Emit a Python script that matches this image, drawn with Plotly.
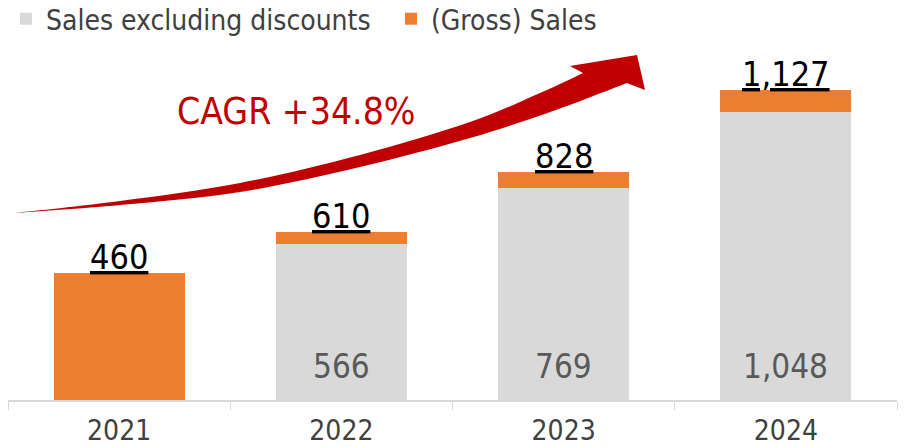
import plotly.graph_objects as go

years = ["2021", "2022", "2023", "2024"]
sales_excl = [0, 566, 769, 1048]
gross_total = [460, 610, 828, 1127]
gross_part = [t - s for t, s in zip(gross_total, sales_excl)]
inner_labels = ["", "566", "769", "1,048"]
total_labels = ["460", "610", "828", "1,127"]
cagr_text = "CAGR +34.8%"

FONT = "Liberation Sans Narrow, DejaVu Sans Condensed, Noto Sans, sans-serif"
W_FIG, H_FIG = 907, 447
ML, MR, MT, MB = 8, 10, 40, 47
PW = W_FIG - ML - MR
PH = H_FIG - MT - MB


def px(x, y):
    return (x - ML) / PW, (H_FIG - MB - y) / PH


def smooth(points):
    """Catmull-Rom through pixel points -> SVG cubic segments in paper units."""
    segs = []
    n = len(points)
    for i in range(n - 1):
        p0 = points[max(i - 1, 0)]
        p1 = points[i]
        p2 = points[i + 1]
        p3 = points[min(i + 2, n - 1)]
        c1 = (p1[0] + (p2[0] - p0[0]) / 6, p1[1] + (p2[1] - p0[1]) / 6)
        c2 = (p2[0] - (p3[0] - p1[0]) / 6, p2[1] - (p3[1] - p1[1]) / 6)
        a, b, c = px(*c1), px(*c2), px(*p2)
        segs.append(f"C {a[0]},{a[1]} {b[0]},{b[1]} {c[0]},{c[1]}")
    return " ".join(segs)


def pt(p):
    q = px(*p)
    return f"{q[0]},{q[1]}"


fig = go.Figure()
fig.add_trace(go.Bar(
    x=years, y=sales_excl, name="Sales excluding discounts",
    marker=dict(color="#D9D9D9", line=dict(width=0)),
    textposition="none",
))
fig.add_trace(go.Bar(
    x=years, y=gross_part, name="(Gross) Sales",
    marker=dict(color="#ED7D31", line=dict(width=0)),
    textposition="none",
))

for i, (tot, lab) in enumerate(zip(gross_total, total_labels)):
    fig.add_annotation(x=i, y=tot, text="<u>" + lab + "</u>", showarrow=False,
                       yanchor="middle", yshift=16,
                       font=dict(size=34, color="#000000", family=FONT))
for i, lab in enumerate(inner_labels):
    if lab:
        fig.add_annotation(x=i, y=0, text=lab, showarrow=False,
                           yanchor="middle", yshift=34,
                           font=dict(size=33, color="#595959", family=FONT))

# curved growth arrow (decoration, pixel outline)
upper = [(15, 213), (120, 201), (240, 183), (360, 155), (470, 122), (540, 93), (583, 73)]
head = [(570, 66), (637, 55), (645, 90), (627, 83)]
lower = [(627, 83), (553, 111), (470, 138), (360, 167), (240, 192), (120, 205), (15, 213)]
path = ("M " + pt(upper[0]) + " " + smooth(upper) + " " +
        " ".join("L " + pt(h) for h in head) + " " + smooth(lower) + " Z")
fig.add_shape(type="path", path=path, xref="paper", yref="paper",
              fillcolor="#C00000", line=dict(width=0), layer="above")

cx, cy = px(296, 112)
fig.add_annotation(x=cx, y=cy, xref="paper", yref="paper", text=cagr_text,
                   xanchor="center", yanchor="middle",
                   showarrow=False, font=dict(size=37, color="#C00000", family=FONT))

lx, ly = px(6, -6)
fig.update_layout(
    width=W_FIG, height=H_FIG,
    margin=dict(l=ML, r=MR, t=MT, b=MB, autoexpand=False),
    barmode="stack", bargap=0.41,
    paper_bgcolor="white", plot_bgcolor="white",
    font=dict(family=FONT),
    showlegend=True,
    legend=dict(orientation="h", x=lx, y=ly, xanchor="left", yanchor="top",
                font=dict(size=28, color="#404040", family=FONT),
                traceorder="normal", itemwidth=30, entrywidth=340,
                bgcolor="rgba(0,0,0,0)"),
    xaxis=dict(type="category", categoryarray=years, categoryorder="array",
               range=[-0.5, len(years) - 0.5], autorange=False,
               showline=True, linecolor="#D9D9D9", linewidth=1.5,
               ticks="outside", tickson="boundaries", ticklen=8, tickcolor="#D9D9D9",
               ticklabelstandoff=5,
               tickfont=dict(size=28, color="#404040", family=FONT),
               showgrid=False, automargin=False),
    yaxis=dict(range=[0, PH / 0.2752], visible=False, showgrid=False, automargin=False),
)

fig.write_html("out.html", config={"displayModeBar": False},
               post_script="document.body.style.margin='0px';")
